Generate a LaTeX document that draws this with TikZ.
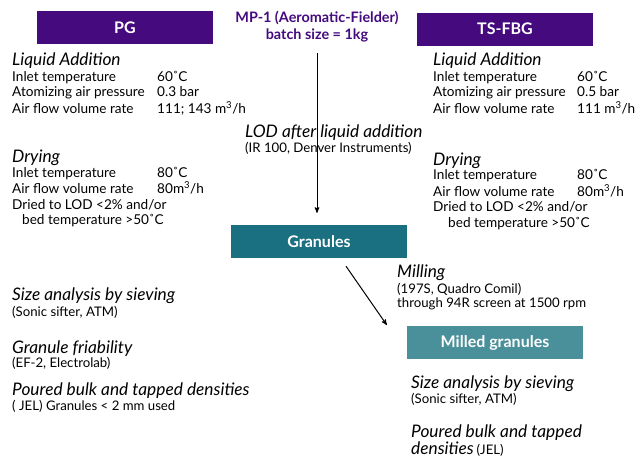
\documentclass[tikz,border=0pt]{standalone}
\usepackage{fontspec}
\setmainfont{Lato}
\usetikzlibrary{arrows,calc,positioning}
\definecolor{lilla}{RGB}{68,10,126}
\definecolor{petrol}{RGB}{26,112,128}
\definecolor{lyspetrol}{RGB}{74,144,154}
\tikzset{
    >=stealth',
    boks/.style={
           rectangle,
           minimum width=176pt,
           minimum height=33pt,
           inner sep=0pt,
           text=white,
           font=\fontsize{16}{18}\selectfont\bfseries},
    overskrift/.style={
           anchor=base west,
           inner sep=0pt,
           font=\fontsize{17.3}{20}\selectfont\itshape},
    tekst/.style={
           anchor=base west,
           inner sep=0pt,
           font=\fontsize{13.6}{15.5}\selectfont},
    liten/.style={
           anchor=base west,
           inner sep=0pt,
           font=\fontsize{13.2}{15}\selectfont},
    pil/.style={
           ->,
           line width=1pt}
}

\begin{document}
\begin{tikzpicture}[x=1pt, y=-1pt]
        \useasboundingbox (0,0) rectangle (636,458);
        % boxes
        \node[boks, fill=lilla] (pg) at (125,27.5) {PG};
        \node[boks, fill=lilla] (tsfbg) at (505,29) {TS-FBG};
        \node[boks, fill=petrol] (gran) at (319,241.5) {Granules};
        \node[boks, fill=lyspetrol] (milled) at (495,342.5) {Milled granules};
        \node[anchor=base, inner sep=0pt, text=lilla, font=\fontsize{14.4}{17}\selectfont\bfseries] (tittel) at (317,22)
             {\begin{tabular}[t]{@{}c@{}}MP-1 (Aeromatic-Fielder)\\ batch size = 1kg\end{tabular}};
        % PG
        \node[overskrift] (pgliq) at (12,65) {Liquid Addition};
        \node[tekst] (pgliqtxt) at (12,81) {\begin{tabular}[t]{@{}p{145pt}@{}l@{}}
             Inlet temperature & 60˚C\\
             Atomizing air pressure & 0.3 bar\\
             Air flow volume rate & 111; 143 m\textsuperscript{3}/h\end{tabular}};
        \node[overskrift] (pgdry) at (12,162) {Drying};
        \node[tekst] (pgdrytxt) at (12,177) {\begin{tabular}[t]{@{}p{145pt}@{}l@{}}
             Inlet temperature & 80˚C\\
             Air flow volume rate & 80m\textsuperscript{3}/h\\
             \multicolumn{2}{@{}l@{}}{Dried to LOD <2\% and/or}\\
             \multicolumn{2}{@{}l@{}}{\hspace{10pt}bed temperature >50˚C}\end{tabular}};
        % TS-FBG
        \node[overskrift] (tsliq) at (433,65) {Liquid Addition};
        \node[tekst] (tsliqtxt) at (433,81) {\begin{tabular}[t]{@{}p{144pt}@{}l@{}}
             Inlet temperature & 60˚C\\
             Atomizing air pressure & 0.5 bar\\
             Air flow volume rate & 111 m\textsuperscript{3}/h\end{tabular}};
        \node[overskrift] (tsdry) at (433,165) {Drying};
        \node[tekst] (tsdrytxt) at (433,179.5) {\begin{tabular}[t]{@{}p{144pt}@{}l@{}}
             Inlet temperature & 80˚C\\
             Air flow volume rate & 80m\textsuperscript{3}/h\\
             \multicolumn{2}{@{}l@{}}{Dried to LOD <2\% and/or}\\
             \multicolumn{2}{@{}l@{}}{\hspace{15pt}bed temperature >50˚C}\end{tabular}};
        % LOD
        \node[overskrift] (lod) at (245,137) {LOD after liquid addition};
        \node[liten] (lodtxt) at (245,152) {(IR 100, Denver Instruments)};
        % granules tests
        \node[overskrift] (gsize) at (12,300) {Size analysis by sieving};
        \node[liten] (gsizetxt) at (12,316) {(Sonic sifter, ATM)};
        \node[overskrift] (gfri) at (12,353) {Granule friability};
        \node[liten] (gfritxt) at (12,367) {(EF-2, Electrolab)};
        \node[overskrift] (gdens) at (12,395) {Poured bulk and tapped densities};
        \node[liten] (gdenstxt) at (12,410) {( JEL) Granules < 2 mm used};
        % milling
        \node[overskrift] (mill) at (397,277) {Milling};
        \node[liten] (milltxt) at (397,293) {(197S, Quadro Comil)};
        \node[liten] (milltxtb) at (397,307) {through 94R screen at 1500 rpm};
        % milled granules tests
        \node[overskrift] (msize) at (411,388) {Size analysis by sieving};
        \node[liten] (msizetxt) at (411,403) {(Sonic sifter, ATM)};
        \node[overskrift] (mdens) at (411,437) {Poured bulk and tapped};
        \node[overskrift] (mdensb) at (411,454) {densities\,{\normalfont\fontsize{13.2}{15}\selectfont(JEL)}};
        % arrows
        \coordinate (millA) at ($(gran.south)+(27,8)$);
        \coordinate (millB) at ($(milled.west)+(-20,-17.5)$);
        \draw[pil, shorten <=9pt, shorten >=12pt] (tittel.south) -- (tittel.south |- gran.north);
        \draw[pil] (millA) -- (millB);
\end{tikzpicture}
\end{document}
